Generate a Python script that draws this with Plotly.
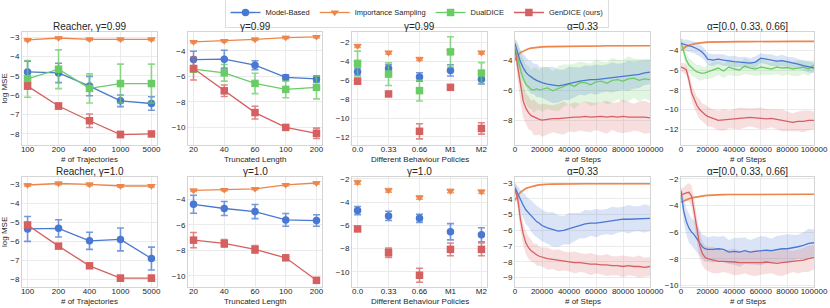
import plotly.graph_objects as go
from plotly.subplots import make_subplots

# ---------------- data ----------------
COLORS = {"MB": "#4878d0", "IS": "#ee854a", "DD": "#6acc64", "GD": "#d65f5f"}
NAMES = {"MB": "Model-Based", "IS": "Importance Sampling", "DD": "DualDICE", "GD": "GenDICE (ours)"}
SYMBOLS = {"MB": "circle", "IS": "triangle-down", "DD": "square", "GD": "square"}

traj_cats = ["100", "200", "400", "1000", "5000"]
len_cats = ["20", "40", "60", "100", "200"]
pol_cats = ["0.0", "0.33", "0.66", "M1", "M2"]

# Row 1 (gamma = 0.99)
r1c1 = {
    "IS": ([-3.15, -3.05, -3.12, -3.12, -3.12], [0.05, 0.05, 0.05, 0.05, 0.05]),
    "MB": ([-4.8, -4.85, -5.53, -6.29, -6.43], [0.55, 0.5, 0.5, 0.3, 0.35]),
    "DD": ([-5.16, -4.66, -5.65, -5.4, -5.4], [0.95, 1.0, 0.75, 1.0, 1.0]),
    "GD": ([-5.53, -6.56, -7.32, -8.03, -8.0], [0.15, 0.15, 0.35, 0.15, 0.1]),
}
r1c2 = {
    "IS": ([-3.3, -3.22, -3.1, -2.96, -2.9], [0.08, 0.08, 0.08, 0.08, 0.08]),
    "MB": ([-4.68, -4.65, -5.12, -6.08, -6.2], [0.65, 0.7, 0.35, 0.2, 0.25]),
    "DD": ([-5.43, -5.72, -6.55, -7.02, -6.86], [0.25, 0.65, 0.8, 0.65, 0.9]),
    "GD": ([-5.38, -7.13, -8.84, -10.0, -10.46], [0.9, 0.45, 0.5, 0.1, 0.4]),
}
r1c3 = {
    "IS": ([-2.39, -3.09, -3.76, -2.98, -3.09], [0.15, 0.15, 0.15, 0.15, 0.15]),
    "MB": ([-5.1, -4.75, -5.66, -4.96, -5.9], [0.4, 0.4, 0.45, 0.6, 0.5]),
    "DD": ([-4.22, -5.35, -7.1, -3.0, -5.24], [1.3, 1.2, 1.1, 1.6, 1.1]),
    "GD": ([-6.1, -7.45, -11.4, -6.75, -11.1], [0.3, 0.15, 0.8, 0.15, 0.6]),
}
# Row 2 (gamma = 1.0)
r2c1 = {
    "IS": ([-3.05, -2.97, -3.02, -3.1, -3.1], [0.06, 0.06, 0.06, 0.06, 0.06]),
    "MB": ([-5.35, -5.32, -5.97, -5.9, -6.9], [0.65, 0.45, 0.45, 0.6, 0.6]),
    "GD": ([-5.14, -6.25, -7.28, -7.93, -7.93], [0.1, 0.1, 0.1, 0.15, 0.15]),
}
r2c2 = {
    "IS": ([-3.32, -3.27, -3.19, -2.88, -2.74], [0.08, 0.08, 0.08, 0.08, 0.08]),
    "MB": ([-4.4, -4.73, -4.97, -5.62, -5.67], [0.7, 0.55, 0.55, 0.5, 0.45]),
    "GD": ([-7.2, -7.46, -7.93, -8.58, -10.34], [0.6, 0.3, 0.3, 0.1, 0.1]),
}
r2c3 = {
    "IS": ([-2.29, -2.98, -3.6, -3.04, -3.1], [0.15, 0.15, 0.15, 0.15, 0.15]),
    "MB": ([-4.72, -5.18, -5.39, -6.54, -6.8], [0.35, 0.4, 0.35, 0.7, 0.6]),
    "GD": ([-6.3, -8.35, -10.29, -8.06, -8.06], [0.1, 0.4, 0.6, 0.55, 0.55]),
}

steps = [0, 2000, 4000, 6000, 8000, 10000, 12000, 14000, 16000, 18000, 20000,
         24000, 28000, 32000, 36000, 40000, 44000, 48000, 52000, 56000, 60000,
         64000, 68000, 72000, 76000, 80000, 84000, 88000, 92000, 96000, 100000]

r1c4 = {
    "IS": ([-4.0, -3.7, -3.5, -3.4, -3.3, -3.25, -3.2, -3.17, -3.15, -3.13, -3.12, -3.1, -3.1, -3.08, -3.08, -3.07,
            -3.07, -3.07, -3.06, -3.06, -3.06, -3.06, -3.05, -3.05, -3.05, -3.05, -3.05, -3.05, -3.05, -3.05, -3.05],
           [0.1, 0.1, 0.08, 0.06, 0.05, 0.05, 0.05, 0.05, 0.05, 0.05, 0.05, 0.05, 0.05, 0.05, 0.05, 0.05,
            0.05, 0.05, 0.05, 0.05, 0.05, 0.05, 0.05, 0.05, 0.05, 0.05, 0.05, 0.05, 0.05, 0.05, 0.05]),
    "MB": ([-2.9, -3.6, -4.1, -4.5, -4.8, -5.0, -5.15, -5.25, -5.35, -5.45, -5.5, -5.6, -5.65, -5.72, -5.65, -5.55,
            -5.45, -5.4, -5.35, -5.3, -5.3, -5.25, -5.2, -5.15, -5.15, -5.1, -5.05, -5.0, -4.95, -4.85, -4.8],
           [0.3, 0.6, 0.8, 0.9, 1.0, 1.0, 1.1, 1.0, 1.1, 1.0, 1.0, 1.1, 1.2, 1.1, 1.0, 1.1,
            1.0, 0.9, 1.0, 0.9, 1.0, 0.9, 0.9, 1.0, 0.9, 0.9, 1.0, 0.9, 0.9, 0.8, 0.8]),
    "DD": ([-3.2, -3.8, -4.6, -5.2, -5.6, -5.8, -5.95, -6.0, -5.9, -6.0, -5.95, -5.85, -6.05, -5.9, -5.7, -5.6,
            -5.75, -5.5, -5.5, -5.65, -5.45, -5.4, -5.55, -5.35, -5.3, -5.4, -5.25, -5.2, -5.35, -5.25, -5.3],
           [0.6, 1.0, 1.2, 1.3, 1.3, 1.4, 1.3, 1.5, 1.4, 1.3, 1.5, 1.4, 1.3, 1.5, 1.4, 1.3,
            1.5, 1.4, 1.3, 1.4, 1.5, 1.3, 1.4, 1.5, 1.3, 1.4, 1.5, 1.3, 1.4, 1.3, 1.4]),
    "GD": ([-3.3, -4.5, -5.8, -6.7, -7.2, -7.5, -7.7, -7.8, -7.9, -7.95, -8.0, -7.95, -7.9, -7.9, -7.85, -7.85,
            -7.8, -7.8, -7.75, -7.8, -7.75, -7.75, -7.8, -7.75, -7.8, -7.75, -7.8, -7.8, -7.75, -7.8, -7.85],
           [0.5, 0.8, 1.0, 1.1, 1.0, 1.1, 1.0, 1.2, 1.1, 1.0, 1.1, 1.0, 0.9, 1.0, 1.1, 0.9,
            1.0, 0.9, 1.0, 1.0, 0.9, 1.0, 1.1, 0.9, 1.0, 1.1, 1.0, 0.9, 1.0, 1.1, 1.0]),
}
r1c5 = {
    "IS": ([-4.0, -3.8, -3.6, -3.5, -3.4, -3.35, -3.3, -3.25, -3.22, -3.2, -3.18, -3.16, -3.15, -3.15, -3.14, -3.14,
            -3.13, -3.13, -3.12, -3.12, -3.12, -3.12, -3.11, -3.11, -3.11, -3.11, -3.1, -3.1, -3.1, -3.1, -3.1],
           [0.1, 0.1, 0.08, 0.06, 0.05, 0.05, 0.05, 0.05, 0.05, 0.05, 0.05, 0.05, 0.05, 0.05, 0.05, 0.05,
            0.05, 0.05, 0.05, 0.05, 0.05, 0.05, 0.05, 0.05, 0.05, 0.05, 0.05, 0.05, 0.05, 0.05, 0.05]),
    "MB": ([-3.3, -3.4, -3.5, -3.55, -3.6, -3.7, -3.85, -4.0, -4.2, -4.5, -4.9, -5.0, -4.9, -5.0, -5.1, -5.15,
            -5.2, -5.25, -5.3, -5.2, -4.8, -4.9, -5.0, -5.1, -5.05, -5.15, -5.3, -5.4, -5.55, -5.65, -5.8],
           [0.5, 0.5, 0.6, 0.6, 0.6, 0.6, 0.6, 0.6, 0.6, 0.6, 0.6, 0.6, 0.5, 0.6, 0.5, 0.6,
            0.5, 0.6, 0.5, 0.6, 0.5, 0.5, 0.6, 0.5, 0.6, 0.5, 0.6, 0.5, 0.5, 0.6, 0.5]),
    "DD": ([-3.2, -4.2, -5.0, -5.5, -5.8, -6.0, -6.2, -6.3, -6.35, -6.3, -6.2, -6.0, -5.8, -6.1, -5.7, -5.9,
            -6.0, -5.6, -5.8, -5.9, -5.7, -5.8, -5.9, -5.7, -5.8, -5.75, -5.9, -5.8, -5.7, -5.9, -5.5],
           [0.5, 0.6, 0.7, 0.7, 0.8, 0.7, 0.7, 0.8, 0.7, 0.6, 0.7, 0.8, 0.7, 0.7, 0.8, 0.7,
            0.6, 0.8, 0.7, 0.7, 0.8, 0.7, 0.6, 0.7, 0.8, 0.7, 0.7, 0.8, 0.7, 0.7, 0.6]),
    "GD": ([-5.7, -5.8, -6.0, -7.0, -8.3, -9.0, -9.6, -10.0, -10.3, -10.5, -10.7, -10.9, -11.1, -11.05, -11.0, -10.95,
            -10.9, -10.85, -10.8, -10.85, -10.9, -10.95, -10.9, -11.0, -11.1, -11.2, -11.3, -11.2, -11.2, -11.1, -11.1],
           [0.4, 0.5, 0.5, 0.7, 0.8, 0.9, 0.9, 1.0, 0.9, 1.0, 1.0, 0.9, 1.0, 1.1, 0.9, 1.0,
            1.1, 1.0, 0.9, 1.0, 1.1, 1.0, 0.9, 1.0, 1.1, 1.0, 0.9, 1.0, 1.1, 1.0, 0.9]),
}
r2c4 = {
    "IS": ([-4.1, -3.8, -3.6, -3.45, -3.35, -3.28, -3.22, -3.18, -3.15, -3.12, -3.1, -3.08, -3.07, -3.06, -3.06, -3.05,
            -3.05, -3.05, -3.05, -3.05, -3.05, -3.05, -3.05, -3.05, -3.05, -3.05, -3.05, -3.05, -3.05, -3.05, -3.05],
           [0.12, 0.1, 0.08, 0.06, 0.05, 0.05, 0.05, 0.05, 0.05, 0.05, 0.05, 0.05, 0.05, 0.05, 0.05, 0.05,
            0.05, 0.05, 0.05, 0.05, 0.05, 0.05, 0.05, 0.05, 0.05, 0.05, 0.05, 0.05, 0.05, 0.05, 0.05]),
    "MB": ([-3.3, -3.7, -4.1, -4.4, -4.7, -4.9, -5.1, -5.3, -5.45, -5.55, -5.7, -5.85, -5.95, -6.05, -6.0, -5.9,
            -5.8, -5.7, -5.6, -5.55, -5.55, -5.5, -5.45, -5.4, -5.35, -5.3, -5.3, -5.28, -5.27, -5.25, -5.25],
           [0.3, 0.5, 0.7, 0.8, 0.9, 0.9, 1.0, 1.0, 1.0, 1.0, 1.0, 1.0, 1.1, 1.0, 0.9, 1.0,
            0.9, 0.8, 0.9, 0.8, 0.9, 0.8, 0.8, 0.9, 0.8, 0.8, 0.9, 0.8, 0.8, 0.9, 0.8]),
    "GD": ([-3.4, -4.0, -5.3, -6.2, -6.8, -7.1, -7.3, -7.45, -7.55, -7.65, -7.7, -7.8, -7.85, -7.9, -7.95, -8.0,
            -8.05, -8.05, -8.1, -8.15, -8.15, -8.2, -8.2, -8.25, -8.25, -8.3, -8.25, -8.3, -8.3, -8.35, -8.3],
           [0.4, 0.6, 0.7, 0.7, 0.7, 0.7, 0.7, 0.6, 0.7, 0.6, 0.6, 0.7, 0.6, 0.7, 0.6, 0.6,
            0.7, 0.6, 0.6, 0.7, 0.6, 0.6, 0.7, 0.6, 0.6, 0.7, 0.6, 0.6, 0.7, 0.6, 0.6]),
}
r2c5 = {
    "IS": ([-3.75, -3.65, -3.55, -3.48, -3.42, -3.38, -3.33, -3.3, -3.27, -3.25, -3.23, -3.2, -3.18, -3.18, -3.17, -3.17,
            -3.17, -3.16, -3.16, -3.16, -3.16, -3.16, -3.15, -3.15, -3.15, -3.15, -3.15, -3.15, -3.15, -3.15, -3.15],
           [0.1, 0.1, 0.08, 0.06, 0.05, 0.05, 0.05, 0.05, 0.05, 0.05, 0.05, 0.05, 0.05, 0.05, 0.05, 0.05,
            0.05, 0.05, 0.05, 0.05, 0.05, 0.05, 0.05, 0.05, 0.05, 0.05, 0.05, 0.05, 0.05, 0.05, 0.05]),
    "MB": ([-2.9, -4.4, -5.2, -5.7, -6.0, -6.2, -6.5, -6.8, -7.1, -7.25, -7.3, -7.3, -7.25, -7.3, -7.5, -7.45,
            -7.5, -7.4, -7.5, -7.45, -7.4, -7.35, -7.4, -7.3, -7.25, -7.25, -7.2, -7.1, -7.0, -6.85, -6.8],
           [0.4, 0.9, 1.0, 1.1, 1.0, 1.1, 1.0, 1.0, 0.9, 1.0, 0.9, 1.0, 0.9, 1.0, 0.9, 1.0,
            1.1, 1.0, 0.9, 1.0, 1.1, 1.0, 0.9, 1.0, 1.0, 1.1, 1.0, 0.9, 1.0, 1.1, 1.0]),
    "GD": ([-3.2, -3.1, -3.05, -3.0, -3.3, -4.5, -5.9, -7.0, -7.6, -7.9, -8.0, -8.1, -8.2, -8.2, -8.2, -8.25,
            -8.3, -8.3, -8.35, -8.3, -8.3, -8.25, -8.3, -8.35, -8.3, -8.25, -8.2, -8.2, -8.1, -8.0, -7.9],
           [0.4, 0.5, 0.6, 0.7, 0.8, 0.9, 1.0, 1.0, 0.9, 0.9, 0.9, 1.0, 0.9, 0.8, 0.9, 1.0,
            0.9, 0.8, 0.9, 1.0, 0.9, 0.9, 0.8, 0.9, 1.0, 0.9, 0.8, 0.9, 0.9, 1.0, 0.9]),
}

titles_r1 = ["Reacher, γ=0.99", "γ=0.99", "γ=0.99", "α=0.33", "α=[0.0, 0.33, 0.66]"]
titles_r2 = ["Reacher, γ=1.0", "γ=1.0", "γ=1.0", "α=0.33", "α=[0.0, 0.33, 0.66]"]
xtitles = ["# of Trajectories", "Truncated Length", "Different Behaviour Policies", "# of Steps", "# of Steps"]

yranges = {(1, 1): [-8.57, -2.74], (1, 2): [-11.38, -2.52], (1, 3): [-12.85, -0.9],
           (1, 4): [-9.65, -2.13], (1, 5): [-13.6, -2.15],
           (2, 1): [-8.39, -2.63], (2, 2): [-10.86, -2.27], (2, 3): [-11.3, -1.83],
           (2, 4): [-9.6, -2.62], (2, 5): [-10.13, -1.85]}
ydticks = {(1, 1): 1, (1, 2): 2, (1, 3): 2, (1, 4): 2, (1, 5): 2,
           (2, 1): 1, (2, 2): 2, (2, 3): 2, (2, 4): 1, (2, 5): 2}

# ---------------- figure ----------------
W, H = 830, 308
col_px = [(22, 157), (188, 322), (352, 487), (515, 650), (681, 814)]
row_px = [(32, 145), (177, 287)]
FONT = "Liberation Sans, Arial, sans-serif"
TXT = "#262626"


def py(p):
    """pixel row (from top of page) -> paper y"""
    return 1 - p / H


def rgba(hexc, a):
    h = hexc.lstrip("#")
    r, g, b = int(h[0:2], 16), int(h[2:4], 16), int(h[4:6], 16)
    return f"rgba({r},{g},{b},{a})"


fig = make_subplots(rows=2, cols=5)
shown = set()
order = ["MB", "IS", "DD", "GD"]


def add_cat(data, cats, row, col):
    for k in order:
        if k not in data:
            continue
        y, e = data[k]
        show = k not in shown
        shown.add(k)
        fig.add_trace(go.Scatter(
            x=cats, y=y, mode="lines+markers", name=NAMES[k], legendgroup=k, showlegend=show,
            line=dict(color=COLORS[k], width=1.3),
            marker=dict(symbol=SYMBOLS[k], size=7.5, color=COLORS[k]),
            error_y=dict(type="data", array=e, visible=True, color=rgba(COLORS[k], 0.75),
                         thickness=1.6, width=3.5),
        ), row=row, col=col)


def add_scatter(data, cats, row, col):
    for k in order:
        if k not in data:
            continue
        y, e = data[k]
        fig.add_trace(go.Scatter(
            x=cats, y=y, mode="markers", name=NAMES[k], legendgroup=k, showlegend=False,
            marker=dict(symbol=SYMBOLS[k], size=7.5, color=COLORS[k]),
            error_y=dict(type="data", array=e, visible=True, color=rgba(COLORS[k], 0.75),
                         thickness=1.6, width=3.5),
        ), row=row, col=col)


def add_ts(data, row, col):
    for k in ["IS", "DD", "MB", "GD"]:
        if k not in data:
            continue
        y, hw = data[k]
        up = [a + b for a, b in zip(y, hw)]
        lo = [a - b for a, b in zip(y, hw)]
        fig.add_trace(go.Scatter(x=steps, y=up, mode="lines", line=dict(width=0, color=COLORS[k]),
                                 showlegend=False, hoverinfo="skip"), row=row, col=col)
        fig.add_trace(go.Scatter(x=steps, y=lo, mode="lines", line=dict(width=0, color=COLORS[k]),
                                 fill="tonexty", fillcolor=rgba(COLORS[k], 0.2),
                                 showlegend=False, hoverinfo="skip"), row=row, col=col)
    for k in ["IS", "DD", "MB", "GD"]:
        if k not in data:
            continue
        y, hw = data[k]
        fig.add_trace(go.Scatter(x=steps, y=y, mode="lines",
                                 line=dict(width=1.6 if k == "IS" else 1.3, color=COLORS[k]),
                                 showlegend=False, legendgroup=k), row=row, col=col)


add_cat(r1c1, traj_cats, 1, 1)
add_cat(r1c2, len_cats, 1, 2)
add_scatter(r1c3, pol_cats, 1, 3)
add_ts(r1c4, 1, 4)
add_ts(r1c5, 1, 5)
add_cat(r2c1, traj_cats, 2, 1)
add_cat(r2c2, len_cats, 2, 2)
add_scatter(r2c3, pol_cats, 2, 3)
add_ts(r2c4, 2, 4)
add_ts(r2c5, 2, 5)

annotations = []
for r in range(2):
    for c in range(5):
        idx = r * 5 + c + 1
        xs = "" if idx == 1 else str(idx)
        x0, x1 = col_px[c]
        y0, y1 = row_px[r]
        xd = [x0 / W, x1 / W]
        yd = [py(y1), py(y0)]
        xaxis = dict(domain=xd, showgrid=True, gridcolor="#ebebeb", gridwidth=1,
                     showline=True, linecolor="#d5d5d5", linewidth=1, mirror=True,
                     zeroline=False, ticks="", tickfont=dict(size=8, color=TXT, family=FONT),
                     tickangle=0, ticklabelstandoff=-4, automargin=False)
        if c < 3:
            xaxis.update(type="category", range=[-0.18, 4.18])
        else:
            xaxis.update(type="linear", range=[0, 100000], tickvals=[0, 20000, 40000, 60000, 80000, 100000],
                         tickformat="d")
        yaxis = dict(domain=yd, range=yranges[(r + 1, c + 1)], dtick=ydticks[(r + 1, c + 1)],
                     showgrid=True, gridcolor="#ebebeb", gridwidth=1,
                     showline=True, linecolor="#d5d5d5", linewidth=1, mirror=True,
                     zeroline=False, ticks="", tickfont=dict(size=8, color=TXT, family=FONT),
                     automargin=False)
        fig.layout["xaxis" + xs].update(xaxis)
        fig.layout["yaxis" + xs].update(yaxis)
        title = (titles_r1 if r == 0 else titles_r2)[c]
        annotations.append(dict(text=title, x=(x0 + x1) / 2 / W, y=py(y0 - 5.5), xref="paper", yref="paper",
                                xanchor="center", yanchor="middle", showarrow=False,
                                font=dict(size=10, color=TXT, family=FONT)))
        annotations.append(dict(text=xtitles[c], x=(x0 + x1) / 2 / W, y=py(y1 + 14.5), xref="paper",
                                yref="paper", xanchor="center", yanchor="middle", showarrow=False,
                                font=dict(size=8, color=TXT, family=FONT)))
    y0, y1 = row_px[r]
    annotations.append(dict(text="log MSE", x=4 / W, y=py((y0 + y1) / 2), xref="paper", yref="paper",
                            xanchor="center", yanchor="middle", textangle=-90, showarrow=False,
                            font=dict(size=8, color=TXT, family=FONT)))

fig.update_layout(
    width=W, height=H, margin=dict(l=0, r=0, t=0, b=0, autoexpand=False),
    paper_bgcolor="white", plot_bgcolor="white",
    font=dict(family=FONT, size=8, color=TXT),
    annotations=annotations,
    showlegend=True,
    legend=dict(orientation="h", x=0.503, xanchor="center", y=py(-3), yanchor="top",
                font=dict(size=7.5, color=TXT, family=FONT), bordercolor="#dddddd", borderwidth=1,
                bgcolor="white", itemwidth=30, tracegroupgap=0),
)

fig.write_html("out.html", config={"displayModeBar": False},
               post_script="document.body.style.margin='0';document.body.style.padding='0';")
